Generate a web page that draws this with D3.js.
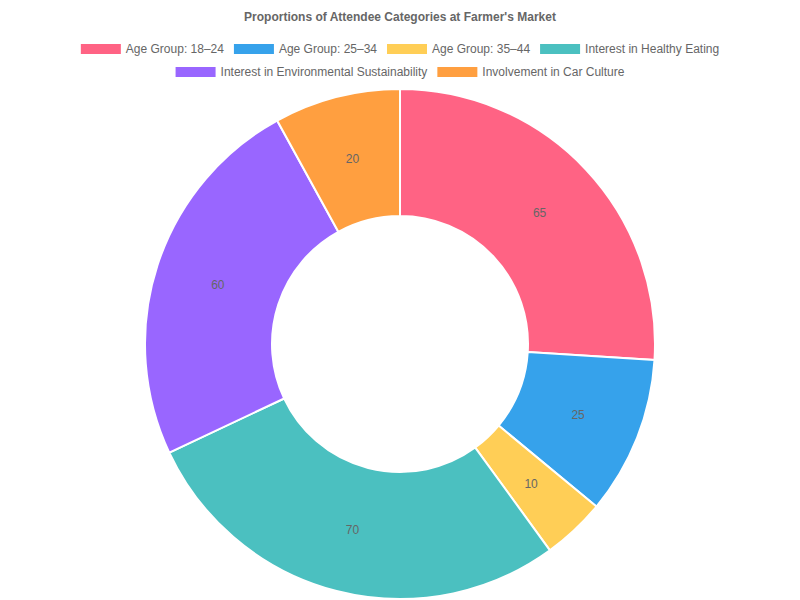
<!DOCTYPE html><html><head><script src="https://cdn.jsdelivr.net/npm/d3@7"></script>
<style>body{margin:0;background:#fff}</style></head><body><svg id="c" width="800" height="600"></svg>
<script>
const categories=["Age Group: 18–24","Age Group: 25–34","Age Group: 35–44","Interest in Healthy Eating","Interest in Environmental Sustainability","Involvement in Car Culture"];
const values=[65,25,10,70,60,20];
const colors=["rgb(255,99,132)","rgb(54,162,235)","rgb(255,206,86)","rgb(75,192,192)","rgb(153,102,255)","rgb(255,159,64)"];
const svg=d3.select("#c");
const font="Helvetica Neue, Helvetica, Arial, Liberation Sans, sans-serif";
svg.append("text").attr("x",400).attr("y",21).attr("text-anchor","middle").attr("font-family",font).attr("font-size",12).attr("font-weight","bold").attr("fill","#666").text("Proportions of Attendee Categories at Farmer's Market");
const rows=[[0,1,2,3],[4,5]],rowY=[49,72];
rows.forEach((r,ri)=>{
  const g=svg.append("g");
  let x=0;
  r.forEach(i=>{
    g.append("rect").attr("x",x).attr("y",rowY[ri]-5).attr("width",40).attr("height",10).attr("fill",colors[i]);
    const t=g.append("text").attr("x",x+45).attr("y",rowY[ri]+4).attr("font-family",font).attr("font-size",12).attr("fill","#666").text(categories[i]);
    x+=45+t.node().getComputedTextLength()+10;
  });
  g.attr("transform",`translate(${400-(x-10)/2},0)`);
});
const cx=400,cy=344,R=255,r0=128;
const pie=d3.pie().sort(null).value(d=>d)(values);
const arc=d3.arc().innerRadius(r0).outerRadius(R);
const g=svg.append("g").attr("transform",`translate(${cx},${cy})`);
g.selectAll("path").data(pie).join("path").attr("d",arc).attr("fill",(d,i)=>colors[i]).attr("stroke","#fff").attr("stroke-width",2);
const la=d3.arc().innerRadius((r0+R)/2).outerRadius((r0+R)/2);
g.selectAll("text").data(pie).join("text").attr("transform",d=>`translate(${la.centroid(d)})`).attr("text-anchor","middle").attr("dy","0.35em").attr("font-family",font).attr("font-size",12).attr("fill","#666").text(d=>d.data);
</script></body></html>
